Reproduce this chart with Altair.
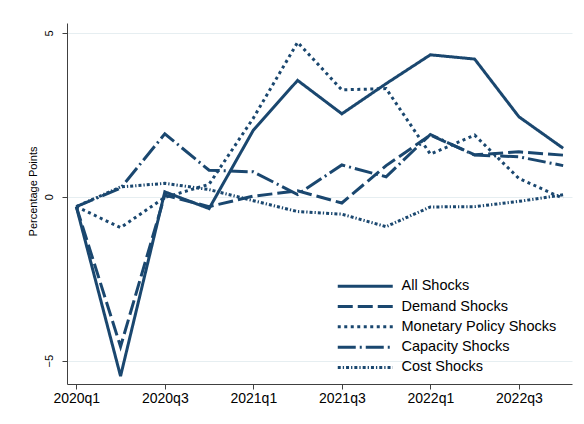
import altair as alt
import pandas as pd

# Quarterly horizon
quarters = ["2020q1", "2020q2", "2020q3", "2020q4",
            "2021q1", "2021q2", "2021q3", "2021q4",
            "2022q1", "2022q2", "2022q3", "2022q4"]

series_names = ["All Shocks", "Demand Shocks", "Monetary Policy Shocks",
                "Capacity Shocks", "Cost Shocks"]

all_shocks = [-0.30, -5.47, 0.15, -0.36, 2.03, 3.55, 2.53, 3.45, 4.33, 4.20, 2.44, 1.48]
demand_shocks = [-0.30, -4.57, 0.05, -0.30, 0.02, 0.18, -0.19, 0.95, 1.88, 1.28, 1.37, 1.27]
monetary_shocks = [-0.30, -0.94, -0.02, 0.38, 2.40, 4.71, 3.26, 3.30, 1.30, 1.88, 0.56, -0.05]
capacity_shocks = [-0.30, 0.26, 1.92, 0.81, 0.76, 0.07, 0.97, 0.61, 1.90, 1.27, 1.22, 0.95]
cost_shocks = [-0.30, 0.30, 0.41, 0.22, -0.12, -0.45, -0.53, -0.91, -0.31, -0.30, -0.14, 0.06]

y_ticks = [-5, 0, 5]
x_tick_positions = [0, 2, 4, 6, 8, 10]

rows = []
for name, values in zip(series_names, [all_shocks, demand_shocks, monetary_shocks,
                                       capacity_shocks, cost_shocks]):
    for i, (q, v) in enumerate(zip(quarters, values)):
        rows.append({"t": i, "quarter": q, "series": name, "value": v})
df = pd.DataFrame(rows)

label_expr = "[" + ",".join(f"'{q}'" for q in quarters) + "][datum.value]"

navy = "#1a476f"
font = "Liberation Sans"

dash_styles = [[1, 0], [15, 5], [3, 3.5], [18, 4, 2, 4], [3, 2, 1.3, 2]]

# Legend key: a long horizontal stroke drawn to the right of the symbol anchor,
# so the legend rows stay compact while the keys stay wide.
legend_key = "M-1,0H9"

chart = (
    alt.Chart(df)
    .mark_line(strokeWidth=3, color=navy, strokeCap="butt", strokeJoin="miter")
    .encode(
        x=alt.X(
            "t:Q",
            scale=alt.Scale(domain=[-0.21, 11.2], nice=False, zero=False),
            axis=alt.Axis(
                values=x_tick_positions, labelExpr=label_expr, title=None, grid=False,
                labelFont=font, labelFontSize=14, labelColor="black",
                tickSize=5, tickColor="#404040", domainColor="#404040",
                labelPadding=2, labelFlush=False, labelOverlap=False,
            ),
        ),
        y=alt.Y(
            "value:Q",
            scale=alt.Scale(domain=[-5.71, 5.3], nice=False, zero=False),
            axis=alt.Axis(
                values=y_ticks, title="Percentage Points",
                titleFont=font, titleFontSize=11, titleFontWeight="normal", titleColor="black",
                titleAngle=270, titleX=-34, titleY=168, titleAlign="center", titleBaseline="middle",
                labelFont=font, labelFontSize=11, labelColor="black", labelAngle=270,
                labelAlign="center", labelBaseline="alphabetic", labelPadding=10,
                tickSize=5, tickColor="#404040", domainColor="#404040",
                grid=True, gridColor="#e6eef1", gridWidth=1,
            ),
        ),
        strokeDash=alt.StrokeDash(
            "series:N",
            sort=series_names,
            scale=alt.Scale(domain=series_names, range=dash_styles),
            legend=alt.Legend(
                title=None, orient="none", legendX=269, legendY=256, padding=0,
                symbolType=legend_key, symbolSize=121, symbolStrokeWidth=3,
                symbolStrokeColor=navy, symbolFillColor="transparent",
                labelFont=font, labelFontSize=14.5,
                labelColor="black", labelOffset=51, rowPadding=5.3, labelLimit=300,
            ),
        ),
    )
    .properties(
        width=505, height=361,
        autosize=alt.AutoSizeParams(type="none"),
        padding={"left": 67, "top": 23, "right": 12, "bottom": 40},
        background="white",
    )
    .configure_view(stroke=None)
)

chart.save("out.html", embed_options={"renderer": "svg", "actions": False})
